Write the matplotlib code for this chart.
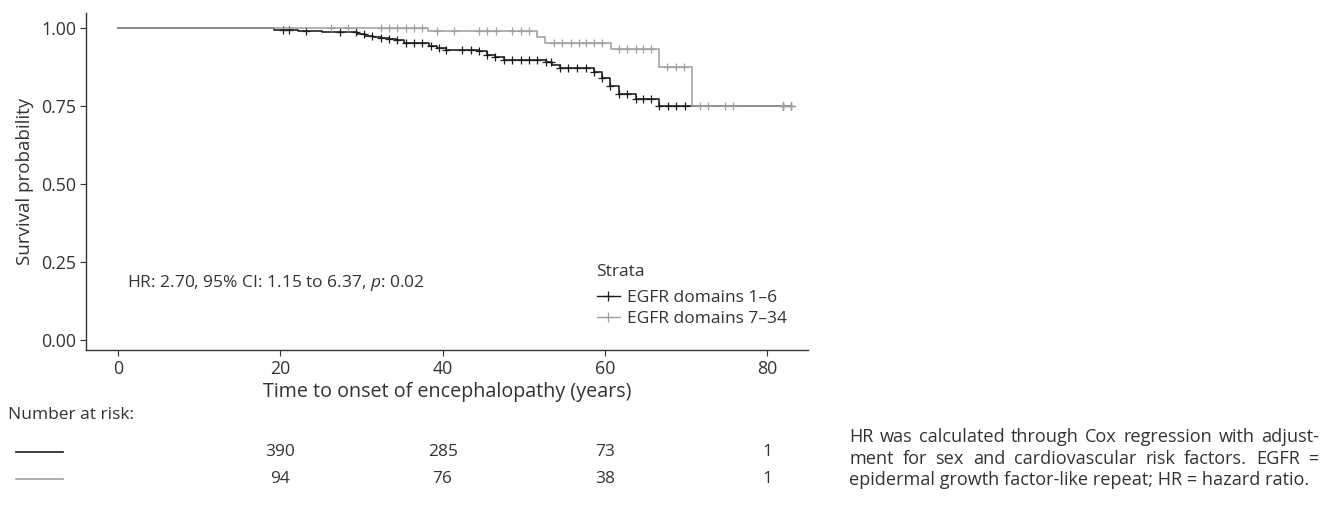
import numpy as np
import matplotlib
matplotlib.use('Agg')
import matplotlib.pyplot as plt
from matplotlib import transforms

plt.rcParams['font.family'] = ['Open Sans', 'DejaVu Sans']
plt.rcParams['mathtext.fontset'] = 'custom'
plt.rcParams['mathtext.rm'] = 'Open Sans'
plt.rcParams['mathtext.it'] = 'Open Sans:italic'

# Kaplan-Meier steps (time of event, survival after event)
t_low = [0, 19.2, 22.2, 25.2, 29.4, 30.4, 31.4, 32.4, 33.4, 34.3, 35.3, 38.3,
         39.3, 40.4, 42.4, 44.5, 45.5, 46.5, 47.5, 52.7, 53.5, 54.5, 57.6,
         58.6, 59.6, 60.6, 61.7, 63.8, 66.7]
s_low = [1.0, 0.995, 0.991, 0.986, 0.981, 0.975, 0.971, 0.968, 0.964, 0.960,
         0.953, 0.943, 0.935, 0.930, 0.928, 0.925, 0.914, 0.907, 0.897, 0.892,
         0.881, 0.873, 0.871, 0.858, 0.839, 0.815, 0.788, 0.772, 0.751]
cens_low = [20.3, 21.1, 23.2, 27.3, 29.3, 30.3, 31.3, 32.4, 33.4, 34.4, 35.5,
            36.5, 37.5, 38.6, 39.6, 40.4, 42.4, 43.5, 44.5, 45.5, 46.5, 47.5,
            48.5, 49.6, 50.6, 51.6, 52.7, 53.4, 54.5, 55.5, 56.5, 57.6, 58.6,
            59.6, 60.6, 61.7, 62.7, 63.8, 64.7, 65.7, 66.7, 67.7, 68.8, 69.8,
            81.9, 82.9]

t_high = [0, 38.2, 51.6, 52.6, 60.7, 66.7, 70.7]
s_high = [1.0, 0.989, 0.972, 0.953, 0.932, 0.874, 0.750]
cens_high = [26.3, 28.3, 32.4, 33.4, 34.4, 35.5, 36.5, 37.5,
             39.3, 41.4, 44.5, 45.5, 46.6, 48.5, 49.6, 50.6,
             53.7, 54.7, 55.8, 56.8, 57.7, 58.6, 59.6,
             61.7, 62.7, 63.8, 64.7, 65.7,
             67.6, 68.7, 69.7,
             71.7, 72.7, 74.8, 75.8, 81.9, 82.9]

risk_times = [20, 40, 60, 80]
risk_low = [390, 285, 73, 1]
risk_high = [94, 76, 38, 1]

labels = ['EGFR domains 1\u20136', 'EGFR domains 7\u201334']
col_low = '#1c1c1c'
col_high = '#a0a0a0'
txt = '#333333'
fs = 12.5

W, H = 1338, 513
fig = plt.figure(figsize=(W / 100, H / 100), dpi=100)

ax = fig.add_axes([86 / W, 1 - 350 / H, (808 - 86) / W, (350 - 13) / H])


def km(ax, t, s, cens, color, label):
    t_end = max(cens)
    xs = list(t) + [t_end]
    ys = list(s) + [s[-1]]
    ax.step(xs, ys, where='post', color=color, lw=1.15)
    idx = np.searchsorted(t, cens, side='right') - 1
    cy = np.array(s)[idx]
    ax.plot(cens, cy, ls='none', marker='+', ms=6, mew=0.9, color=color)
    return ax.plot([], [], color=color, lw=1.0, marker='+', ms=7, mew=0.9,
                   label=label)[0]


h1 = km(ax, t_low, s_low, cens_low, col_low, labels[0])
h2 = km(ax, t_high, s_high, cens_high, col_high, labels[1])

ax.set_xlim(-3.93, 85.0)
ax.set_ylim(-0.032, 1.048)
ax.set_xticks([0, 20, 40, 60, 80])
ax.set_yticks([0, 0.25, 0.5, 0.75, 1.0])
ax.set_yticklabels(['0.00', '0.25', '0.50', '0.75', '1.00'])
for sp in ['top', 'right']:
    ax.spines[sp].set_visible(False)
for sp in ['left', 'bottom']:
    ax.spines[sp].set_color('#333333')
    ax.spines[sp].set_linewidth(1.0)
ax.tick_params(length=4, width=0.8, color='#333333', labelsize=12.8,
               labelcolor=txt, pad=3)
ax.set_ylabel('Survival probability', fontsize=13.5, color=txt, labelpad=5)
ax.set_xlabel('Time to onset of encephalopathy (years)', fontsize=14.2,
              color=txt, labelpad=3)

ax.text(1.1, 0.183, 'HR: 2.70, 95% CI: 1.15 to 6.37, $p$: 0.02',
        fontsize=fs, color=txt, va='center', ha='left')

# legend: title as its own text, entries below
fig.text(596 / W, 1 - 272 / H, 'Strata', fontsize=fs, color=txt,
         va='center', ha='left')
leg = ax.legend(handles=[h1, h2], loc='upper left',
                bbox_to_anchor=(597 / W, 1 - 290 / H),
                bbox_transform=fig.transFigure, frameon=False, fontsize=fs,
                handlelength=1.3, handletextpad=0.4,
                labelspacing=0.25, borderpad=0, borderaxespad=0)
for t in leg.get_texts():
    t.set_color(txt)

# number at risk table
axr = fig.add_axes([86 / W, 1 - 492.5 / H, (808 - 86) / W, 54 / H])
axr.set_xlim(ax.get_xlim())
axr.set_ylim(1.5, -0.5)
axr.axis('off')
for row, vals in enumerate([risk_low, risk_high]):
    for x, v in zip(risk_times, vals):
        axr.text(x, row, str(v), ha='center', va='center', fontsize=fs,
                 color=txt)
tr = transforms.blended_transform_factory(fig.transFigure, axr.transData)
for row, c in enumerate([col_low, col_high]):
    axr.plot([16 / W, 63 / W], [row, row], color=c, lw=1.2, transform=tr,
             clip_on=False)
fig.text(8 / W, 1 - 415 / H, 'Number at risk:', fontsize=fs, color=txt,
         va='center', ha='left')

# justified footnote
note = ['HR was calculated through Cox regression with adjust-',
        'ment for sex and cardiovascular risk factors. EGFR =',
        'epidermal growth factor-like repeat; HR = hazard ratio.']
x0, x1 = 849, 1319
y_px = [437, 458.5, 480]
nfs = 13.1
r = fig.canvas.get_renderer()
for i, line in enumerate(note):
    y = 1 - y_px[i] / H
    if i == len(note) - 1:
        fig.text(x0 / W, y, line, fontsize=nfs, color=txt, va='center')
        continue
    words = line.split(' ')
    widths = []
    for w in words:
        tt = fig.text(0, 0, w, fontsize=nfs)
        widths.append(tt.get_window_extent(r).width)
        tt.remove()
    gap = (x1 - x0 - sum(widths)) / (len(words) - 1)
    x = x0
    for w, wd in zip(words, widths):
        fig.text(x / W, y, w, fontsize=nfs, color=txt, va='center')
        x += wd + gap

fig.savefig('out.png', dpi=100)
